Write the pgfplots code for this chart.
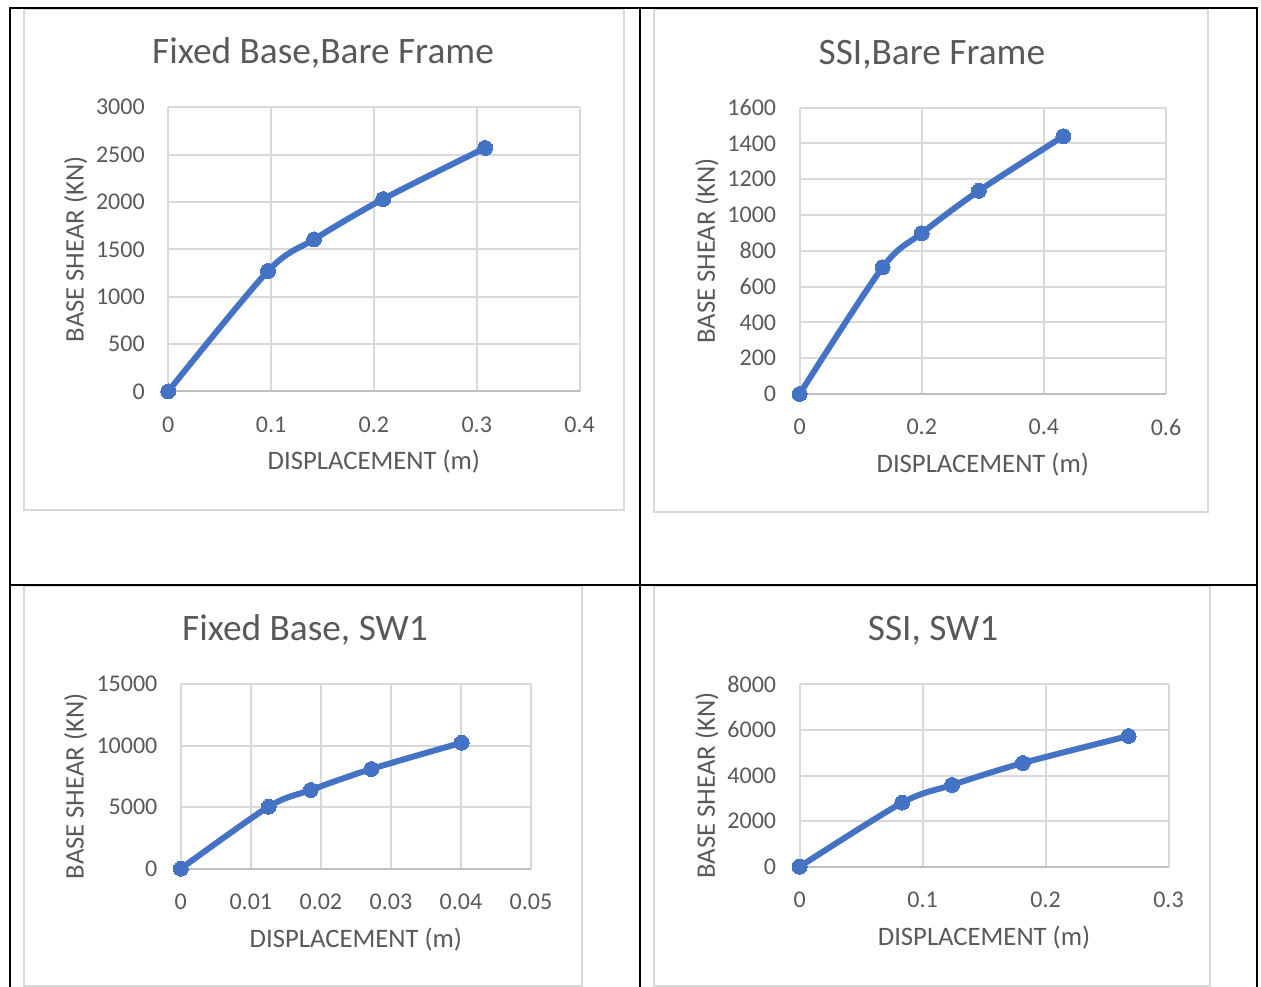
\documentclass[border=0pt]{standalone}
\usepackage{pgfplots}
\pgfplotsset{compat=1.18}
\usepackage{fontspec}
\setmainfont{Carlito}
\definecolor{txt}{HTML}{595959}
\definecolor{grd}{HTML}{D9D9D9}
\definecolor{axl}{HTML}{BFBFBF}
\definecolor{ser}{HTML}{4472C4}
\pgfplotsset{
 panel/.style={
  scale only axis,
  anchor=south west,
  scaled ticks=false,
  axis line style={draw=none},
  tick style={draw=none},
  major tick length=0pt,
  grid=major,
  major grid style={draw=grd, line width=0.75pt},
  extra y ticks={0},
  extra y tick labels={},
  extra y tick style={grid=major, major grid style={draw=axl, line width=0.75pt}},
  ticklabel style={font=\fontsize{9}{10}\selectfont, text=txt},
  yticklabel style={anchor=east, inner sep=0pt, xshift=-8.6pt},
  xticklabel style={anchor=north, inner sep=0pt, yshift=-9.2pt},
  every axis title/.style={font=\fontsize{14}{16}\selectfont, text=txt, at={(axis description cs:0.5,1)}, anchor=base, xshift=-19.1pt, yshift=16.3pt},
  every axis x label/.style={font=\fontsize{10}{12}\selectfont, text=txt, at={(axis description cs:0.5,0)}, anchor=base, yshift=-29.4pt},
  xlabel={DISPLACEMENT (m)},
  ylabel={BASE SHEAR (KN)},
  clip=false,
 },
 curve/.style={draw=ser, line width=2.25pt, smooth, mark=*, mark size=2.8pt, mark options={solid, fill=ser, draw=ser, line width=0pt}},
 ylab/.style={every axis y label/.style={font=\fontsize{10}{12}\selectfont, text=txt, at={([xshift=-#1]axis description cs:0,0.5)}, rotate=90, anchor=base}},
 ylabd/.style={every axis y label/.style={font=\fontsize{10}{12}\selectfont, text=txt, at={([xshift=-#1,yshift=-3.75pt]axis description cs:0,0.5)}, rotate=90, anchor=base}},
}
\begin{document}
\begin{tikzpicture}
\path[use as bounding box] (0,0) rectangle (472.875pt,370.125pt);
% chart area frames
\draw[grd, line width=0.75pt] (9pt,366.75pt) rectangle (234pt,178.875pt);
\draw[grd, line width=0.75pt] (245.25pt,366.75pt) rectangle (453pt,178.125pt);
\draw[grd, line width=0.75pt] (9pt,150.375pt) rectangle (218.25pt,0.375pt);
\draw[grd, line width=0.75pt] (245.25pt,150.375pt) rectangle (453.75pt,0.375pt);
% table borders
\draw[black, line width=0.75pt] (3.75pt,-1pt) -- (3.75pt,367.3pt) -- (471.2pt,367.3pt) -- (471.2pt,-1pt);
\draw[black, line width=0.75pt] (240pt,367.3pt) -- (240pt,-1pt);
\draw[black, line width=0.75pt] (3.75pt,150.75pt) -- (471.2pt,150.75pt);

% Panel 1
\begin{axis}[panel, ylab=31.7pt,
  at={(63.075pt,223.35pt)}, width=154.275pt, height=106.54pt,
  title={Fixed Base,Bare Frame},
  xmin=0, xmax=0.4, ymin=0, ymax=3000,
  xtick={0,0.1,0.2,0.3,0.4}, xticklabels={0,0.1,0.2,0.3,0.4},
  ytick={0,500,1000,1500,2000,2500,3000}, yticklabels={0,500,1000,1500,2000,2500,3000}]
\addplot[curve] coordinates {(0,0) (0.0970,1271) (0.1418,1605) (0.2090,2031) (0.3082,2571)};
\end{axis}

% Panel 2
\begin{axis}[panel, ylab=31.8pt,
  at={(299.85pt,222.375pt)}, width=137.4pt, height=107.4pt,
  title={SSI,Bare Frame},
  xmin=0, xmax=0.6, ymin=0, ymax=1600,
  xtick={0,0.2,0.4,0.6}, xticklabels={0,0.2,0.4,0.6},
  ytick={0,200,400,600,800,1000,1200,1400,1600}, yticklabels={0,200,400,600,800,1000,1200,1400,1600}]
\addplot[curve] coordinates {(0,0) (0.1360,708) (0.2000,898) (0.2935,1135) (0.4320,1440)};
\end{axis}

% Panel 3
\begin{axis}[panel, ylabd=36.4pt,
  at={(67.8pt,44.36pt)}, width=131.33pt, height=69.26pt,
  title={Fixed Base, SW1},
  xmin=0, xmax=0.05, ymin=0, ymax=15000,
  xtick={0,0.01,0.02,0.03,0.04,0.05}, xticklabels={0,0.01,0.02,0.03,0.04,0.05},
  ytick={0,5000,10000,15000}, yticklabels={0,5000,10000,15000}]
\addplot[curve] coordinates {(0,0) (0.01255,5035) (0.01855,6392) (0.0272,8097) (0.0401,10233)};
\end{axis}

% Panel 4
\begin{axis}[panel, ylabd=31.8pt,
  at={(299.85pt,45.11pt)}, width=138.34pt, height=68.4pt,
  title={SSI, SW1},
  xmin=0, xmax=0.3, ymin=0, ymax=8000,
  xtick={0,0.1,0.2,0.3}, xticklabels={0,0.1,0.2,0.3},
  ytick={0,2000,4000,6000,8000}, yticklabels={0,2000,4000,6000,8000}]
\addplot[curve] coordinates {(0,0) (0.0834,2807) (0.1239,3583) (0.1815,4548) (0.2675,5732)};
\end{axis}
\end{tikzpicture}
\end{document}
